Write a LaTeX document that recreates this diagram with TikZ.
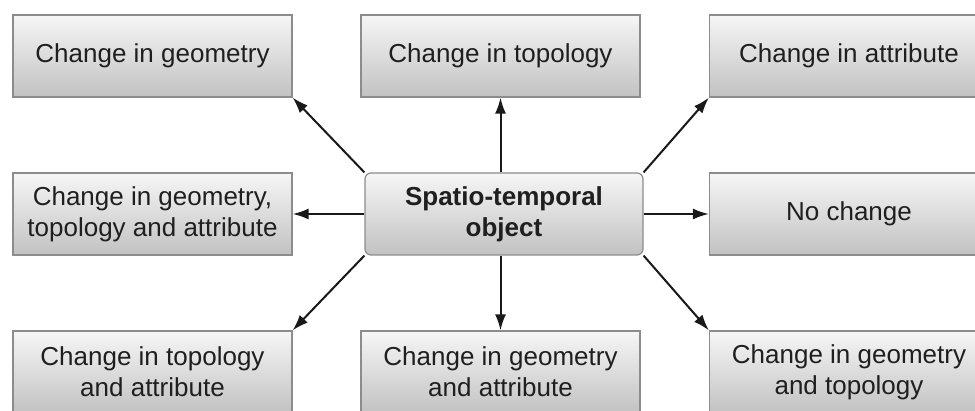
\documentclass[tikz,border=0pt]{standalone}
\usepackage{fontspec}
\setmainfont{Liberation Sans}
\usetikzlibrary{arrows.meta}
\definecolor{boxtop}{HTML}{F6F6F6}
\definecolor{boxbot}{HTML}{C2C2C2}
\definecolor{boxline}{HTML}{8C8C8C}
\begin{document}
\begin{tikzpicture}[x=1pt,y=1pt,
  box/.style={draw=boxline, line width=1.2pt, top color=boxtop, bottom color=boxbot,
    minimum width=279pt, minimum height=82pt, inner sep=0pt, align=center,
    font=\fontsize{26}{31}\selectfont, text=black!88},
  centerbox/.style={box, rounded corners=6pt, minimum width=278pt, font=\fontsize{26}{31}\selectfont\bfseries},
  conn/.style={-{Latex[length=16pt,width=11pt]}, line width=2pt, black!90}]
\clip (0,0) rectangle (975,410);
\fill[white] (0,0) rectangle (975,410);
\node[box] (tl) at (152.5,354) {Change in geometry};
\node[box] (tc) at (500.5,354) {Change in topology};
\node[box] (tr) at (849,354) {Change in attribute};
\node[box] (ml) at (152.5,196) {Change in geometry,\\topology and attribute};
\node[centerbox] (c) at (504,196) {Spatio-temporal\\object};
\node[box] (mr) at (849,196) {No change};
\node[box] (bl) at (152.5,38) {Change in topology\\and attribute};
\node[box] (bc) at (500.5,38) {Change in geometry\\and attribute};
\node[box] (br) at (849,38) {Change in geometry\\and topology};
\draw[conn] (c.north west) -- (tl.south east);
\draw[conn] (c.north -| tc.south) -- (tc.south);
\draw[conn] (c.north east) -- (tr.south west);
\draw[conn] (c.west) -- (ml.east);
\draw[conn] (c.east) -- (mr.west);
\draw[conn] (c.south west) -- (bl.north east);
\draw[conn] (c.south -| bc.north) -- (bc.north);
\draw[conn] (c.south east) -- (br.north west);
\end{tikzpicture}
\end{document}
